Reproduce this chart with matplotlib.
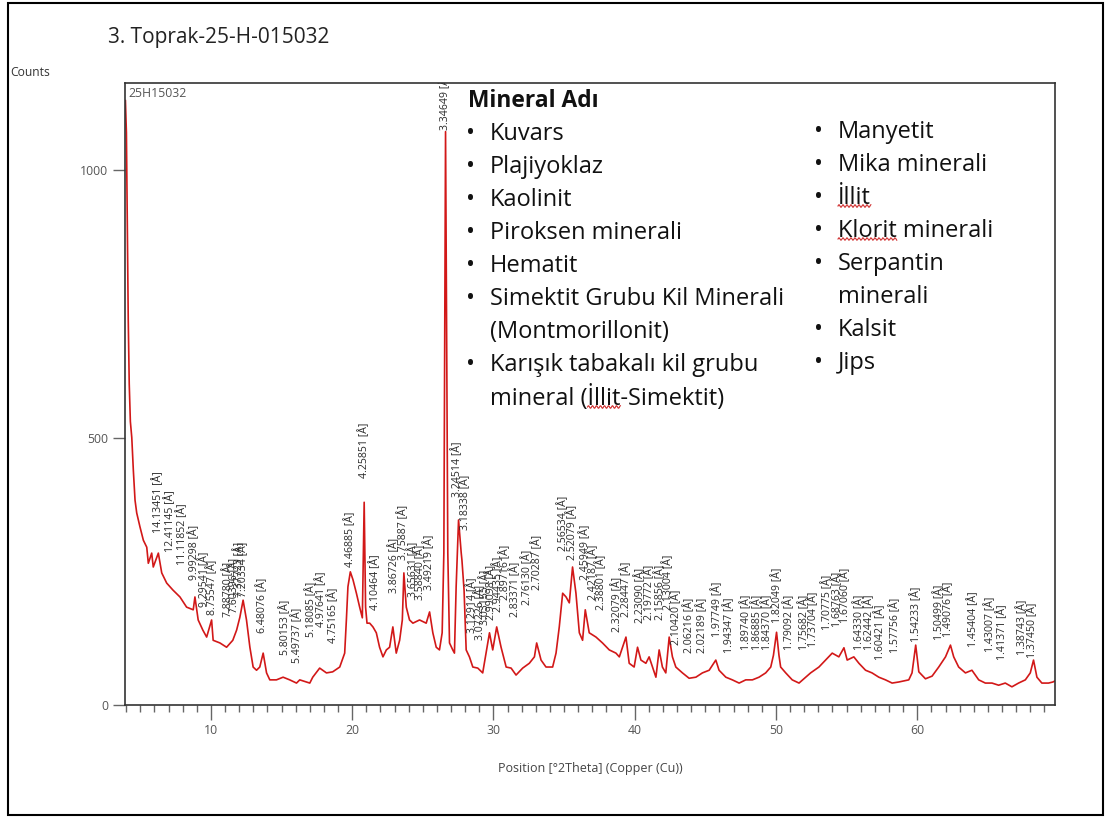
import numpy as np
import matplotlib
matplotlib.use("Agg")
import matplotlib.pyplot as plt
from matplotlib.patches import Rectangle

plt.rcParams['font.family'] = ['Open Sans', 'DejaVu Sans']

# XRD scan: position [°2Theta] and counts
two_theta = [3.95, 4.02, 4.08, 4.15, 4.22, 4.30, 4.40, 4.51, 4.63, 4.75, 4.98, 5.22, 5.46, 5.57,
             5.81, 5.92, 6.28, 6.52, 6.87, 7.31, 7.81, 8.28, 8.75, 8.87, 9.10, 9.43, 9.70, 10.05,
             10.16, 10.64, 11.11, 11.55, 11.82, 12.05, 12.28, 12.52, 12.76, 12.99, 13.23, 13.46,
             13.70, 13.94, 14.17, 14.64, 15.11, 15.58, 16.06, 16.29, 17.00, 17.21, 17.70, 18.18,
             18.62, 19.12, 19.47, 19.59, 19.70, 19.87, 20.06, 20.30, 20.53, 20.72, 20.85, 20.95,
             21.05, 21.24, 21.47, 21.71, 21.94, 22.18, 22.42, 22.65, 22.88, 23.12, 23.36, 23.55,
             23.66, 23.83, 24.06, 24.30, 24.77, 25.24, 25.48, 25.71, 25.95, 26.18, 26.37, 26.49,
             26.61, 26.77, 26.89, 27.12, 27.24, 27.36, 27.53, 27.72, 27.77, 27.92, 28.07, 28.30,
             28.54, 28.89, 29.24, 29.48, 29.72, 29.95, 30.23, 30.54, 30.90, 31.25, 31.60, 32.07,
             32.54, 32.90, 33.06, 33.37, 33.72, 34.19, 34.43, 34.66, 34.90, 35.14, 35.37, 35.60,
             35.84, 36.08, 36.31, 36.50, 36.78, 37.26, 37.72, 38.20, 38.67, 38.91, 39.38, 39.61,
             39.96, 40.20, 40.44, 40.79, 41.02, 41.26, 41.50, 41.73, 41.96, 42.20, 42.44, 42.67,
             42.91, 43.38, 43.85, 44.33, 44.79, 45.27, 45.74, 45.97, 46.45, 46.91, 47.39, 47.86,
             48.33, 48.80, 49.27, 49.63, 49.82, 50.04, 50.21, 50.33, 50.69, 51.15, 51.63, 52.10,
             52.45, 53.04, 53.51, 53.98, 54.45, 54.81, 55.04, 55.51, 55.87, 56.34, 56.80, 57.28,
             57.75, 58.22, 58.69, 59.40, 59.63, 59.89, 60.11, 60.58, 61.05, 61.52, 62.00, 62.35,
             62.58, 62.93, 63.41, 63.87, 64.35, 64.82, 65.29, 65.76, 66.23, 66.70, 67.17, 67.65,
             68.00, 68.23, 68.47, 68.82, 69.29, 69.60, 69.75]
counts = [1130, 1070, 900, 720, 600, 530, 500, 439, 383, 359, 333, 308, 295, 265,
          284, 258, 284, 247, 228, 215, 202, 183, 178, 202, 159, 140, 127, 159,
          121, 116, 108, 121, 140, 164, 196, 159, 108, 71, 65, 71,
          97, 60, 47, 47, 52, 47, 41, 47, 41, 52, 69, 60,
          62, 71, 97, 159, 221, 249, 234, 209, 183, 163, 379, 183,
          153, 153, 146, 135, 108, 90, 103, 108, 146, 97, 121, 159,
          247, 183, 159, 153, 159, 153, 174, 135, 108, 103, 135, 284,
          1072, 284, 116, 103, 97, 221, 346, 284, 271, 215, 103, 90,
          71, 69, 60, 97, 135, 103, 146, 108, 71, 69, 56, 69,
          78, 90, 116, 84, 71, 71, 97, 146, 209, 202, 191, 258,
          209, 135, 121, 178, 135, 127, 116, 103, 97, 90, 127, 78,
          71, 108, 84, 78, 90, 71, 52, 103, 71, 60, 127, 90,
          71, 60, 50, 52, 60, 65, 84, 65, 52, 47, 41, 47,
          47, 52, 60, 71, 93, 136, 93, 71, 60, 47, 41, 52,
          60, 71, 84, 97, 90, 107, 84, 90, 78, 65, 60, 52,
          47, 41, 43, 47, 60, 112, 62, 49, 54, 71, 90, 112,
          90, 71, 60, 65, 47, 41, 41, 37, 41, 34, 41, 47,
          60, 84, 52, 41, 41, 43, 45]

# peak labels: d-spacing [Å] and the count level where each label starts
d_values = [14.13451, 12.41145, 11.11852, 9.99298, 9.29541, 8.75547, 7.88780, 7.60396,
            7.37723, 7.20334, 6.48076, 5.80153, 5.49737, 5.18085, 4.97641, 4.75165,
            4.46885, 4.25851, 4.10464, 3.86726, 3.75887, 3.65631, 3.58840, 3.49219,
            3.34649, 3.24514, 3.18338, 3.12914, 3.07226, 3.03155, 2.99098, 2.94435,
            2.89716, 2.83371, 2.76130, 2.70287, 2.56534, 2.52079, 2.45949, 2.42187,
            2.38801, 2.32079, 2.28447, 2.23090, 2.19772, 2.15856, 2.13004, 2.10420,
            2.06216, 2.02189, 1.97749, 1.94347, 1.89740, 1.86885, 1.84370, 1.82049,
            1.79092, 1.75682, 1.73704, 1.70775, 1.68763, 1.67060, 1.64330, 1.62442,
            1.60421, 1.57756, 1.54233, 1.50499, 1.49076, 1.45404, 1.43007, 1.41371,
            1.38743, 1.37450]
label_y = [321, 286, 262, 234, 183, 168, 164, 172, 202, 202, 134, 93, 78, 127, 146, 116,
           258, 424, 178, 210, 271, 202, 196, 215,
           1075, 389, 327, 134, 121, 150, 159, 174,
           196, 164, 187, 215, 288, 271, 234, 196,
           178, 136, 164, 153, 159, 159, 178, 112,
           97, 97, 127, 97, 103, 103, 103, 153,
           103, 103, 108, 140, 146, 153, 103, 103,
           84, 97, 118, 121, 127, 108, 99, 84,
           93, 88]

peak_pos = [2 * np.degrees(np.arcsin(1.5406 / (2 * d))) for d in d_values]

W, H = 1105, 818
fig = plt.figure(figsize=(W / 100, H / 100), dpi=100)
fig.patch.set_facecolor('white')


def fx(x):
    return x / W


def fy(y):
    return 1 - y / H


ax = fig.add_axes([fx(125), fy(705), (1055 - 125) / W, (705 - 83) / H])
ax.plot(two_theta, counts, color='#d21818', lw=1.2)
ax.set_xlim(3.92, 69.75)
ax.set_ylim(0, 1163)

for pos, d, yl in zip(peak_pos, d_values, label_y):
    ax.text(pos, yl, f"{d:.5f} [Å]", rotation=90, ha='left', va='center',
            fontsize=7.6, color='#2a2a2a', clip_on=True, rotation_mode='anchor')

ax.set_xticks([10, 20, 30, 40, 50, 60])
ax.set_xticks(np.arange(4, 70, 1), minor=True)
ax.set_yticks([0, 500, 1000])
ax.tick_params(axis='both', which='major', length=11, width=1, color='#666666',
               labelsize=8.8, labelcolor='#555555', direction='out', pad=3)
ax.tick_params(axis='x', which='minor', length=5, width=1, color='#666666', direction='out')
ax.tick_params(axis='y', which='major', length=9)
for s in ax.spines.values():
    s.set_color('#333333')
    s.set_linewidth(1.2)

ax.set_xlabel("Position [°2Theta] (Copper (Cu))", fontsize=9, color='#444444', labelpad=18)
ax.text(0.004, 0.993, "25H15032", transform=ax.transAxes, ha='left', va='top',
        fontsize=8.8, color='#555555')

fig.text(fx(10), fy(72), "Counts", fontsize=8.7, color='#333333', ha='left', va='center')
fig.text(fx(108), fy(38), "3. Toprak-25-H-015032", fontsize=15, color='#222222',
         ha='left', va='center')

# mineral list overlay
fig.text(fx(468), fy(101), "Mineral Adı", fontsize=16.4, fontweight='bold', color='#111111',
         ha='left', va='center')
col1 = ["Kuvars", "Plajiyoklaz", "Kaolinit", "Piroksen minerali", "Hematit",
        "Simektit Grubu Kil Minerali\n(Montmorillonit)",
        "Karışık tabakalı kil grubu\nmineral (İllit-Simektit)"]
col2 = ["Manyetit", "Mika minerali", "İllit", "Klorit minerali", "Serpantin\nminerali",
        "Kalsit", "Jips"]
# words flagged by the spell checker: (line text, prefix before word, word)
flagged = [("İllit", "", "İllit"), ("Klorit minerali", "", "Klorit"),
           ("mineral (İllit-Simektit)", "mineral (", "İllit")]

txt_style = dict(fontsize=17, color='#111111', ha='left', va='center')
lines = {}
line_h = 33
y = 134
for item in col1:
    fig.text(fx(466), fy(y), "•", **txt_style)
    for k, part in enumerate(item.split("\n")):
        lines[part] = fig.text(fx(490), fy(y + k * line_h), part, **txt_style)
    y += line_h * len(item.split("\n"))
y = 132
for item in col2:
    fig.text(fx(814), fy(y), "•", **txt_style)
    for k, part in enumerate(item.split("\n")):
        lines[part] = fig.text(fx(838), fy(y + k * line_h), part, **txt_style)
    y += line_h * len(item.split("\n"))

# red wavy spell-check underlines
fig.canvas.draw()
rend = fig.canvas.get_renderer()
for line, prefix, word in flagged:
    t = lines[line]
    bb = t.get_window_extent(rend)
    x0 = bb.x0
    if prefix:
        tmp = fig.text(0, 0, prefix, **txt_style)
        x0 += tmp.get_window_extent(rend).width
        tmp.remove()
    tmp = fig.text(0, 0, word, **txt_style)
    wlen = tmp.get_window_extent(rend).width
    tmp.remove()
    xs = np.linspace(x0, x0 + wlen, 60)
    ys = bb.y0 + 4 + 1.3 * np.sin((xs - x0) * np.pi / 2.0)
    fig.add_artist(plt.Line2D(xs / W, ys / H, transform=fig.transFigure,
                              color='#d03030', lw=0.8))

fig.patches.append(Rectangle((fx(8), fy(815)), (1103 - 8) / W, (815 - 3) / H,
                             transform=fig.transFigure, fill=False, edgecolor='black',
                             lw=1.5))

fig.savefig("out.png", dpi=100)
